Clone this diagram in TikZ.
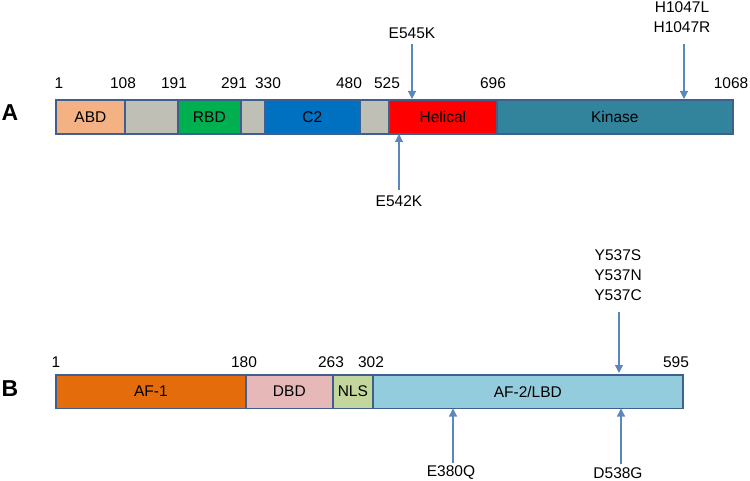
\documentclass[tikz,border=0pt]{standalone}
\usepackage{fontspec}
\setmainfont{Liberation Sans}
\usetikzlibrary{arrows.meta}
\definecolor{edge}{HTML}{3F5F8F}
\definecolor{mut}{HTML}{5B87BF}
\definecolor{linker}{HTML}{C0BFB5}
\definecolor{abdc}{HTML}{F4B183}
\definecolor{rbdc}{HTML}{00B050}
\definecolor{ctwo}{HTML}{0070C0}
\definecolor{helic}{HTML}{FF0000}
\definecolor{kin}{HTML}{31849B}
\definecolor{afone}{HTML}{E46C0A}
\definecolor{dbdc}{HTML}{E6B9B8}
\definecolor{nlsc}{HTML}{C3D69B}
\definecolor{aftwo}{HTML}{93CDDD}

\begin{document}
\begin{tikzpicture}[x=1pt,y=-1pt,
    every node/.style={font=\fontsize{15.5}{20}\selectfont},
    domain/.style={draw=edge,line width=1.7pt,anchor=north west,inner sep=1pt,minimum height=#1},
    domain/.default=33.5pt,
    residue/.style={inner sep=0pt},
    panel/.style={font=\fontsize{23}{26}\selectfont\bfseries,inner sep=0pt},
    mutation/.style={align=center,inner sep=1pt},
    hit/.style={draw=mut,line width=1.1pt,-{Triangle[length=8pt,width=8pt]}}]
    \useasboundingbox (0,0) rectangle (750,481);

    % panel A: PIK3CA
    \node[panel] (A) at (10,113) {A};
    \node[domain,fill=abdc,minimum width=69pt] (abd) at (55,99.5) {ABD};
    \node[domain,fill=linker,minimum width=53pt] (la) at (124,99.5) {};
    \node[domain,fill=rbdc,minimum width=63pt] (rbd) at (177,99.5) {RBD};
    \node[domain,fill=linker,minimum width=24pt] (lb) at (240,99.5) {};
    \node[domain,fill=ctwo,minimum width=95pt] (c2) at (264,99.5) {C2};
    \node[domain,fill=linker,minimum width=29pt] (lc) at (359,99.5) {};
    \node[domain,fill=helic,minimum width=108pt] (helical) at (388,99.5) {Helical};
    \node[domain,fill=kin,minimum width=236pt] (kinase) at (496,99.5) {Kinase};

    \node[residue] (p1) at (59,83.5) {1};
    \node[residue] (p108) at (123,83.5) {108};
    \node[residue] (p191) at (174,83.5) {191};
    \node[residue] (p291) at (234,83.5) {291};
    \node[residue] (p330) at (268,83.5) {330};
    \node[residue] (p480) at (349,83.5) {480};
    \node[residue] (p525) at (387,83.5) {525};
    \node[residue] (p696) at (493,83.5) {696};
    \node[residue] (p1068) at (731,83.5) {1068};

    \node[mutation] (e545k) at (412,33) {E545K};
    \node[mutation] (e542k) at (399,201) {E542K};
    \node[mutation] (h1047) at (682,17) {H1047L\\H1047R};
    \coordinate (t545) at (412,99);
    \coordinate (t542) at (399,134);
    \coordinate (t1047) at (684,99);
    \draw[hit] (e545k.south -| t545) ++(0,4) -- (t545);
    \draw[hit] (e542k.north -| t542) ++(0,-4) -- (t542);
    \draw[hit] (h1047.south -| t1047) ++(0,10) -- (t1047);

    % panel B: ESR1
    \node[panel] (B) at (10,389) {B};
    \node[domain,fill=afone,minimum width=190pt] (af1) at (55,374) {AF-1};
    \node[domain,fill=dbdc,minimum width=87pt] (dbd) at (245,374) {DBD};
    \node[domain,fill=nlsc,minimum width=40pt] (nls) at (332,374) {NLS};
    \node[domain,fill=aftwo,minimum width=310pt] (lbd) at (372,374) {AF-2/LBD};

    \node[residue] (q1) at (56,362) {1};
    \node[residue] (q180) at (244,362) {180};
    \node[residue] (q263) at (331,362) {263};
    \node[residue] (q302) at (371,362) {302};
    \node[residue] (q595) at (676,362) {595};

    \node[mutation] (y537) at (618,275) {Y537S\\Y537N\\Y537C};
    \node[mutation] (e380q) at (451,473) {E380Q};
    \node[mutation] (d538g) at (618,473) {D538G};
    \coordinate (t537) at (619,373);
    \coordinate (t380) at (453,408.5);
    \coordinate (t538) at (621,408.5);
    \draw[hit] (y537.south -| t537) ++(0,10) -- (t537);
    \draw[hit] (e380q.north -| t380) ++(0,-2) -- (t380);
    \draw[hit] (d538g.north -| t538) ++(0,-2) -- (t538);
\end{tikzpicture}
\end{document}
